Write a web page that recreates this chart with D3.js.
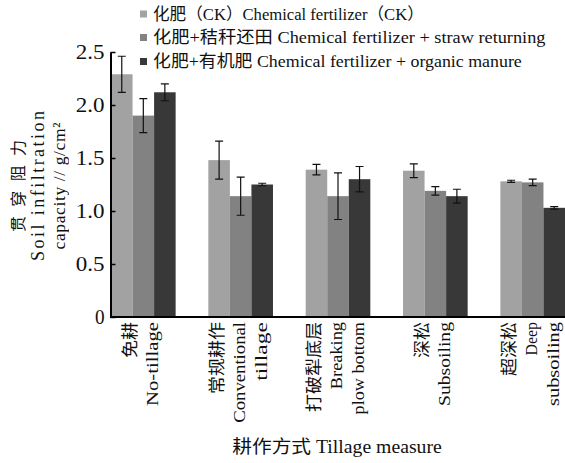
<!DOCTYPE html>
<html>
<head>
<meta charset="utf-8">
<script src="https://cdn.jsdelivr.net/npm/d3@7"></script>
<style>
  body { margin: 0; background: #fff; }
  svg { display: block; }
  .y-title { opacity: 0.999; }
</style>
</head>
<body>
<svg id="chart" width="565" height="463"></svg>
<script>
// Tillage measures (Chinese name + English lines)
const categoriesCn = ["免耕", "常规耕作", "打破犁底层", "深松", "超深松"];
const categoriesEn = [
  ["No-tillage"],
  ["Conventional", "tillage"],
  ["Breaking", "plow bottom"],
  ["Subsoiling"],
  ["Deep", "subsoiling"]
];

// Fertilizer treatments
const seriesLabels = [
  "化肥（CK）Chemical fertilizer（CK）",
  "化肥+秸秆还田 Chemical fertilizer + straw returning",
  "化肥+有机肥 Chemical fertilizer + organic manure"
];

// Penetration resistance, g/cm², mean and error per tillage measure
const ckValues      = [2.29, 1.48, 1.39, 1.38, 1.28];
const ckErrors      = [0.17, 0.18, 0.05, 0.065, 0.01];
const strawValues   = [1.90, 1.14, 1.14, 1.19, 1.27];
const strawErrors   = [0.16, 0.18, 0.22, 0.04, 0.03];
const organicValues = [2.12, 1.25, 1.30, 1.14, 1.03];
const organicErrors = [0.08, 0.012, 0.12, 0.065, 0.012];

const yTicks = [0, 0.5, 1.0, 1.5, 2.0, 2.5];
const yTitleLines = ["贯穿阻力", "Soil infiltration", "capacity // g/cm²"];
const xTitle = "耕作方式 Tillage measure";

const seriesColors = ["#a2a2a2", "#828282", "#383838"];
const series = [
  { values: ckValues, errors: ckErrors },
  { values: strawValues, errors: strawErrors },
  { values: organicValues, errors: organicErrors }
].map((s, k) => ({ ...s, label: seriesLabels[k], color: seriesColors[k] }));

const FONT = '"Liberation Serif", "Noto Sans CJK SC", serif';

// Width of a string set in a Song-style face: full-width CJK glyphs, half-width Latin
function songWidth(str, cjk, latin) {
  let w = 0;
  for (const ch of str) w += ch.codePointAt(0) >= 0x2E80 ? cjk : latin;
  return w;
}

// Style a text element and fit it to a given width
function fitText(sel, str, size, len, adjust = "spacingAndGlyphs") {
  return sel.style("font-family", FONT)
    .style("font-size", size + "px")
    .attr("fill", "#111")
    .attr("textLength", len)
    .attr("lengthAdjust", adjust)
    .text(str);
}

const svg = d3.select("#chart");

const x = d3.scaleBand()
  .domain(d3.range(categoriesCn.length))
  .range([111, 565])
  .paddingInner(0.336)
  .paddingOuter(0);

const xInner = d3.scaleBand()
  .domain(d3.range(series.length))
  .range([0, x.bandwidth()]);

const y = d3.scaleLinear().domain([0, 2.5]).range([317, 52]);

// Bars
series.forEach((s, k) => {
  svg.append("g")
    .attr("fill", s.color)
    .selectAll("rect")
    .data(s.values)
    .join("rect")
    .attr("x", (v, i) => x(i) + xInner(k))
    .attr("y", v => y(v))
    .attr("width", xInner.bandwidth())
    .attr("height", v => y(0) - y(v));
});

// Error bars
const errG = svg.append("g").attr("stroke", "#111").attr("stroke-width", 1.2).attr("fill", "none");
series.forEach((s, k) => {
  s.values.forEach((v, i) => {
    const cx = x(i) + xInner(k) + xInner.bandwidth() / 2;
    const top = y(v + s.errors[i]);
    const bot = y(v - s.errors[i]);
    const cap = 4;
    errG.append("path")
      .attr("d", `M${cx},${top}V${bot}M${cx - cap},${top}H${cx + cap}M${cx - cap},${bot}H${cx + cap}`);
  });
});

// Y axis, ticks pointing inward
const yAxis = svg.append("g")
  .attr("transform", "translate(110.5,0)")
  .call(d3.axisLeft(y)
    .tickValues(yTicks)
    .tickSize(-5)
    .tickSizeOuter(0)
    .tickPadding(6)
    .tickFormat(d => d === 0 ? "0" : d3.format(".1f")(d)));
yAxis.select(".domain").attr("stroke", "#000").attr("stroke-width", 2);
yAxis.selectAll(".tick line").attr("stroke", "#000").attr("stroke-width", 1.5);
yAxis.selectAll(".tick text")
  .attr("fill", "#111")
  .style("font-family", FONT)
  .style("font-size", "21px")
  .attr("textLength", function () { return songWidth(this.textContent, 20, 9.6); })
  .attr("lengthAdjust", "spacingAndGlyphs");

// X axis baseline
svg.append("line")
  .attr("x1", 110).attr("x2", 565)
  .attr("y1", y(0)).attr("y2", y(0))
  .attr("stroke", "#000").attr("stroke-width", 2);

// Category labels, rotated
categoriesCn.forEach((cn, i) => {
  const lines = [cn, ...categoriesEn[i]];
  const cx = x(i) + x.bandwidth() / 2;
  lines.forEach((line, j) => {
    const bx = cx + 4 + (j - (lines.length - 1) / 2) * 22;
    fitText(svg.append("text")
      .attr("transform", `translate(${bx},322) rotate(-90)`)
      .attr("text-anchor", "end"),
      line, 17.5, songWidth(line, 18, 8.4));
  });
});

// X axis title
fitText(svg.append("text")
  .attr("x", 337).attr("y", 453)
  .attr("text-anchor", "middle"),
  xTitle, 18.5, songWidth(xTitle, 18, 8.6));

// Y axis title, three rotated lines
const yTitleX = [24, 44, 64.5];
const yTitleLen = [92, 150, 127];
const yTitleSize = [16, 18, 17.5];
const yTitle = svg.append("g").attr("class", "y-title");
yTitleLines.forEach((line, j) => {
  fitText(yTitle.append("text")
    .attr("transform", `translate(${yTitleX[j]},186) rotate(-90)`)
    .attr("text-anchor", "middle"),
    line, yTitleSize[j], yTitleLen[j], "spacing");
});

// Legend
const legendRows = [14, 37.5, 61.5];
const legend = svg.append("g");
series.forEach((s, k) => {
  legend.append("rect")
    .attr("x", 140).attr("y", legendRows[k] - 3.5)
    .attr("width", 7).attr("height", 7)
    .attr("fill", s.color);
  fitText(legend.append("text")
    .attr("x", 153).attr("y", legendRows[k] + 5.5),
    s.label, 16.5, songWidth(s.label, 16, 7.6));
});
</script>
</body>
</html>
